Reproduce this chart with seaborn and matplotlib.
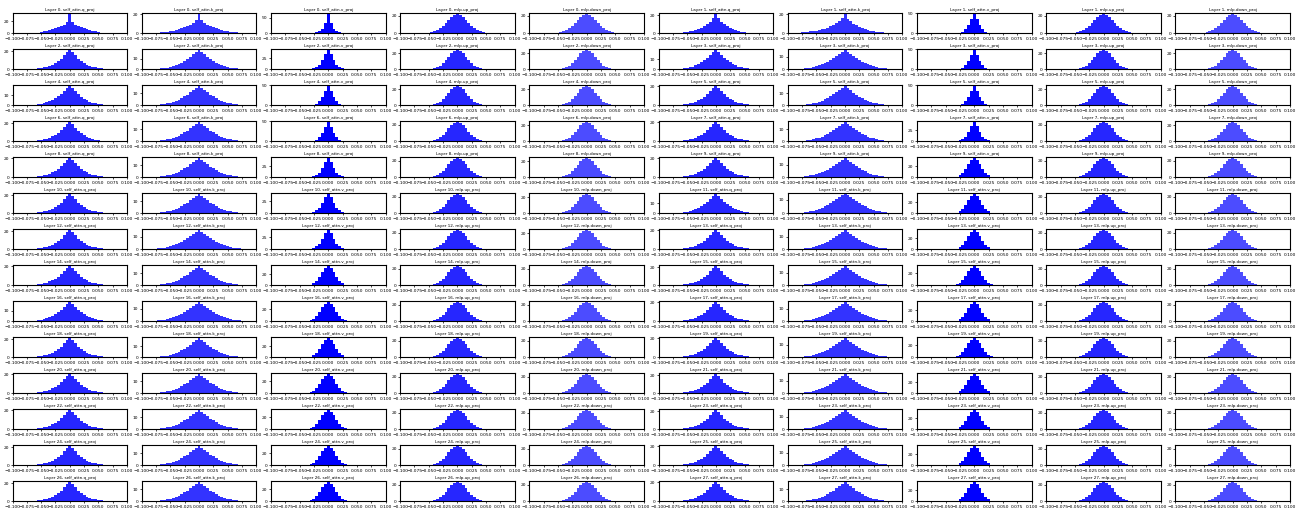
import numpy as np
import pandas as pd
import matplotlib
matplotlib.use("Agg")
import matplotlib.pyplot as plt
import seaborn as sns

# Weight-value histograms per layer and projection (density per 0.005-wide bin,
# each list centred on 0.0 so the middle entry is the bin around zero).
modules = ["self_attn.q_proj", "self_attn.k_proj", "self_attn.v_proj",
           "mlp.up_proj", "mlp.down_proj"]
x_ticks = [-0.1, -0.075, -0.05, -0.025, 0.0, 0.025, 0.05, 0.075, 0.1]
bin_width = 0.005

q_proj = [
    [0.3,0.5,0.8,1.3,2,3,4,5.5,7,9,10.5,12,14,18,31,18,14,12,10.5,9,7,5.5,4,3,2,1.3,0.8,0.5,0.3],
    [0.3,0.45,0.7,1,1.4,2,2.7,3.6,4.8,6.3,8.1,10.3,13,16.8,21,16.5,12.8,10,7.8,6,4.5,3.3,2.4,1.7,1.2,0.8,0.5,0.3,0.15],
    [0.15,0.3,0.55,0.9,1.35,2,2.8,3.9,5.2,7,9.2,11.9,15.3,18.8,21,18.8,15.3,11.9,9.2,7,5.2,3.9,2.8,2,1.35,0.9,0.55,0.3,0.15],
    [0.2,0.35,0.6,0.95,1.4,2,2.8,3.8,5.1,6.8,8.8,11.3,14.3,17.2,19,17.2,14.3,11.3,8.8,6.8,5.1,3.8,2.8,2,1.4,0.95,0.6,0.35,0.2],
    [0.2,0.35,0.6,0.95,1.4,2.1,2.9,3.9,5.2,6.9,8.9,11.4,14.4,17.3,19,17.1,14.2,11.2,8.7,6.7,5,3.7,2.7,1.9,1.3,0.9,0.55,0.3,0.2],
    [0.2,0.35,0.6,0.95,1.4,2,2.8,3.9,5.2,6.9,9,11.6,14.8,18,20,18,14.8,11.6,9,6.9,5.2,3.9,2.8,2,1.4,0.95,0.6,0.35,0.2],
    [0.15,0.3,0.55,0.9,1.4,2,2.8,3.9,5.3,7.1,9.3,12,15.4,18.9,21,18.7,15.2,11.8,9.1,6.9,5.1,3.8,2.7,1.9,1.3,0.85,0.5,0.3,0.15],
    [0.2,0.35,0.6,0.95,1.4,2,2.8,3.9,5.2,6.9,9,11.6,14.8,18,20,18,14.8,11.6,9,6.9,5.2,3.9,2.8,2,1.4,0.95,0.6,0.35,0.2],
    [0.2,0.3,0.55,0.9,1.35,2,2.8,3.9,5.3,7,9.1,11.7,14.9,18.1,20,17.9,14.7,11.5,8.9,6.8,5.1,3.8,2.7,1.9,1.35,0.9,0.55,0.35,0.2],
    [0.2,0.35,0.6,0.95,1.4,2,2.8,3.9,5.2,6.9,9,11.6,14.8,18,20,18,14.8,11.6,9,6.9,5.2,3.9,2.8,2,1.4,0.95,0.6,0.35,0.2],
    [0.15,0.3,0.55,0.9,1.35,2,2.8,3.9,5.2,7,9.2,11.9,15.3,18.8,21,18.8,15.3,11.9,9.2,7,5.2,3.9,2.8,2,1.35,0.9,0.55,0.3,0.15],
    [0.2,0.35,0.6,0.95,1.4,2,2.8,3.8,5.1,6.8,8.8,11.3,14.3,17.2,19,17.2,14.3,11.3,8.8,6.8,5.1,3.8,2.8,2,1.4,0.95,0.6,0.35,0.2],
    [0.15,0.3,0.55,0.9,1.35,2,2.8,3.9,5.2,7,9.2,11.9,15.3,18.8,21,18.8,15.3,11.9,9.2,7,5.2,3.9,2.8,2,1.35,0.9,0.55,0.3,0.15],
    [0.2,0.35,0.6,0.95,1.4,2,2.8,3.9,5.2,6.9,9,11.6,14.8,18,20,18,14.8,11.6,9,6.9,5.2,3.9,2.8,2,1.4,0.95,0.6,0.35,0.2],
    [0.2,0.35,0.6,0.95,1.4,2,2.9,4,5.3,7,9.1,11.7,14.9,18,20,17.9,14.7,11.5,8.9,6.8,5.1,3.8,2.7,1.9,1.3,0.9,0.55,0.35,0.2],
    [0.15,0.3,0.55,0.9,1.35,2,2.8,3.9,5.2,7,9.2,11.9,15.3,18.8,21,18.8,15.3,11.9,9.2,7,5.2,3.9,2.8,2,1.35,0.9,0.55,0.3,0.15],
    [0.2,0.35,0.6,0.95,1.4,2,2.8,3.8,5,6.6,8.5,10.9,13.7,16.4,18,16.4,13.7,10.9,8.5,6.6,5,3.8,2.8,2,1.4,0.95,0.6,0.35,0.2],
    [0.2,0.35,0.6,0.95,1.4,2,2.8,3.9,5.2,6.9,9,11.6,14.8,18,20,18,14.8,11.6,9,6.9,5.2,3.9,2.8,2,1.4,0.95,0.6,0.35,0.2],
    [0.15,0.3,0.55,0.9,1.35,2,2.8,3.9,5.2,7,9.2,11.9,15.3,18.8,21,18.8,15.3,11.9,9.2,7,5.2,3.9,2.8,2,1.35,0.9,0.55,0.3,0.15],
    [0.2,0.35,0.6,0.95,1.4,2,2.8,3.9,5.2,6.9,9,11.6,14.8,18,20,18,14.8,11.6,9,6.9,5.2,3.9,2.8,2,1.4,0.95,0.6,0.35,0.2],
    [0.2,0.35,0.6,0.95,1.4,2,2.8,3.9,5.2,6.9,9,11.6,14.8,18,20,18,14.8,11.6,9,6.9,5.2,3.9,2.8,2,1.4,0.95,0.6,0.35,0.2],
    [0.15,0.3,0.55,0.9,1.35,2,2.8,3.9,5.2,7,9.2,11.9,15.3,18.8,21,18.8,15.3,11.9,9.2,7,5.2,3.9,2.8,2,1.35,0.9,0.55,0.3,0.15],
    [0.2,0.35,0.6,0.95,1.4,2,2.8,3.9,5.2,6.9,9,11.6,14.8,18,20,18,14.8,11.6,9,6.9,5.2,3.9,2.8,2,1.4,0.95,0.6,0.35,0.2],
    [0.15,0.3,0.55,0.9,1.35,2,2.8,3.9,5.2,7,9.2,11.9,15.3,18.8,21,18.8,15.3,11.9,9.2,7,5.2,3.9,2.8,2,1.35,0.9,0.55,0.3,0.15],
    [0.15,0.3,0.55,0.9,1.35,2,2.8,3.9,5.2,7,9.2,11.9,15.3,18.8,21,18.8,15.3,11.9,9.2,7,5.2,3.9,2.8,2,1.35,0.9,0.55,0.3,0.15],
    [0.2,0.35,0.6,0.95,1.4,2,2.8,3.9,5.2,6.9,9,11.6,14.8,18,20,18,14.8,11.6,9,6.9,5.2,3.9,2.8,2,1.4,0.95,0.6,0.35,0.2],
    [0.15,0.3,0.55,0.9,1.35,2,2.8,3.9,5.2,7,9.2,11.9,15.3,18.8,21,18.8,15.3,11.9,9.2,7,5.2,3.9,2.8,2,1.35,0.9,0.55,0.3,0.15],
    [0.2,0.35,0.6,0.95,1.4,2,2.8,3.9,5.2,6.9,9,11.6,14.8,18,20,18,14.8,11.6,9,6.9,5.2,3.9,2.8,2,1.4,0.95,0.6,0.35,0.2],
]

k_proj = [
    [0.3,0.5,0.75,1.05,1.4,1.8,2.3,2.9,3.6,4.4,5.3,6.4,7.6,9,10.8,13.5,20,13.5,10.8,9,7.6,6.4,5.3,4.4,3.6,2.9,2.3,1.8,1.4,1.05,0.75,0.5,0.3],
    [0.6,0.9,1.2,1.5,1.9,2.3,2.8,3.4,4.1,5,6,7.2,8.7,10.5,12.8,15.8,20,15.5,12.5,10.2,8.3,6.8,5.5,4.4,3.5,2.8,2.2,1.7,1.3,0.95,0.65,0.4,0.25],
    [0.2,0.35,0.55,0.8,1.15,1.6,2.2,2.9,3.7,4.8,6.1,7.7,9.5,11.6,14,16.5,18,16.5,14,11.6,9.5,7.7,6.1,4.8,3.7,2.9,2.2,1.6,1.15,0.8,0.55,0.35,0.2],
    [0.25,0.42,0.65,0.95,1.3,1.75,2.3,3,3.8,4.8,6,7.3,8.8,10.5,12.3,14,15,14,12.3,10.5,8.8,7.3,6,4.8,3.8,3,2.3,1.75,1.3,0.95,0.65,0.42,0.25],
    [0.25,0.4,0.6,0.9,1.25,1.7,2.3,3,3.8,4.8,6,7.4,9,10.8,12.8,14.8,16,14.8,12.8,10.8,9,7.4,6,4.8,3.8,3,2.3,1.7,1.25,0.9,0.6,0.4,0.25],
    [0.3,0.45,0.65,0.95,1.3,1.75,2.35,3.1,3.9,4.9,6.1,7.5,9.1,10.9,12.9,14.8,16,14.7,12.7,10.7,8.9,7.3,5.9,4.7,3.7,2.9,2.2,1.6,1.2,0.85,0.55,0.35,0.2],
    [0.25,0.4,0.6,0.9,1.25,1.7,2.3,3,3.8,4.8,6,7.4,9,10.8,12.8,14.8,16,14.8,12.8,10.8,9,7.4,6,4.8,3.8,3,2.3,1.7,1.25,0.9,0.6,0.4,0.25],
    [0.25,0.42,0.65,0.95,1.3,1.75,2.3,3,3.8,4.8,6,7.3,8.8,10.5,12.3,14,15.5,14,12.3,10.5,8.8,7.3,6,4.8,3.8,3,2.3,1.75,1.3,0.95,0.65,0.42,0.25],
    [0.25,0.4,0.6,0.9,1.25,1.7,2.3,3,3.8,4.8,6,7.4,9,10.8,12.8,14.8,16,14.8,12.8,10.8,9,7.4,6,4.8,3.8,3,2.3,1.7,1.25,0.9,0.6,0.4,0.25],
    [0.3,0.5,0.75,1.05,1.45,1.9,2.5,3.2,4,4.9,6.1,7.4,8.9,10.6,12.4,14,15,14,12.2,10.4,8.7,7.2,5.9,4.7,3.7,2.9,2.2,1.65,1.2,0.85,0.6,0.4,0.25],
    [0.25,0.4,0.6,0.9,1.25,1.7,2.3,3,3.8,4.8,6,7.4,9,10.8,12.8,14.8,16,14.8,12.8,10.8,9,7.4,6,4.8,3.8,3,2.3,1.7,1.25,0.9,0.6,0.4,0.25],
    [0.25,0.45,0.7,1,1.4,1.9,2.5,3.2,4.1,5.1,6.3,7.6,9,10.5,12,13.3,14,13.3,12,10.5,9,7.6,6.3,5.1,4.1,3.2,2.5,1.9,1.4,1,0.7,0.45,0.25],
    [0.25,0.42,0.65,0.95,1.3,1.75,2.3,3,3.8,4.8,6,7.3,8.8,10.5,12.3,14,15,14,12.3,10.5,8.8,7.3,6,4.8,3.8,3,2.3,1.75,1.3,0.95,0.65,0.42,0.25],
    [0.25,0.42,0.65,0.95,1.3,1.75,2.3,3,3.8,4.8,6,7.3,8.8,10.5,12.3,14,15,14,12.3,10.5,8.8,7.3,6,4.8,3.8,3,2.3,1.75,1.3,0.95,0.65,0.42,0.25],
    [0.25,0.4,0.6,0.9,1.25,1.7,2.3,3,3.8,4.8,6,7.4,9,10.8,12.8,14.8,16,14.8,12.8,10.8,9,7.4,6,4.8,3.8,3,2.3,1.7,1.25,0.9,0.6,0.4,0.25],
    [0.25,0.42,0.65,0.95,1.3,1.75,2.3,3,3.8,4.8,6,7.3,8.8,10.5,12.3,14,15,14,12.3,10.5,8.8,7.3,6,4.8,3.8,3,2.3,1.75,1.3,0.95,0.65,0.42,0.25],
    [0.25,0.42,0.65,0.95,1.3,1.75,2.3,3,3.8,4.8,6,7.3,8.8,10.5,12.3,14,15,14,12.3,10.5,8.8,7.3,6,4.8,3.8,3,2.3,1.75,1.3,0.95,0.65,0.42,0.25],
    [0.25,0.42,0.65,0.95,1.3,1.75,2.3,3,3.8,4.8,6,7.3,8.8,10.5,12.3,14,15,14,12.3,10.5,8.8,7.3,6,4.8,3.8,3,2.3,1.75,1.3,0.95,0.65,0.42,0.25],
    [0.2,0.35,0.55,0.8,1.15,1.6,2.2,2.9,3.7,4.8,6.1,7.6,9.3,11.3,13.5,15.7,17,15.7,13.5,11.3,9.3,7.6,6.1,4.8,3.7,2.9,2.2,1.6,1.15,0.8,0.55,0.35,0.2],
    [0.25,0.42,0.65,0.95,1.3,1.75,2.3,3,3.8,4.8,6,7.3,8.8,10.5,12.3,14,15,14,12.3,10.5,8.8,7.3,6,4.8,3.8,3,2.3,1.75,1.3,0.95,0.65,0.42,0.25],
    [0.25,0.4,0.6,0.9,1.25,1.7,2.3,3,3.8,4.8,6,7.4,9,10.8,12.8,14.8,16,14.8,12.8,10.8,9,7.4,6,4.8,3.8,3,2.3,1.7,1.25,0.9,0.6,0.4,0.25],
    [0.25,0.42,0.65,0.95,1.3,1.75,2.3,3,3.8,4.8,6,7.3,8.8,10.5,12.3,14,15,14,12.3,10.5,8.8,7.3,6,4.8,3.8,3,2.3,1.75,1.3,0.95,0.65,0.42,0.25],
    [0.25,0.4,0.6,0.9,1.25,1.7,2.3,3,3.8,4.8,6,7.4,9,10.8,12.8,14.8,16,14.8,12.8,10.8,9,7.4,6,4.8,3.8,3,2.3,1.7,1.25,0.9,0.6,0.4,0.25],
    [0.25,0.42,0.65,0.95,1.3,1.75,2.3,3,3.8,4.8,6,7.3,8.8,10.5,12.3,14,15,14,12.3,10.5,8.8,7.3,6,4.8,3.8,3,2.3,1.75,1.3,0.95,0.65,0.42,0.25],
    [0.25,0.4,0.6,0.9,1.25,1.7,2.3,3,3.8,4.8,6,7.4,9,10.8,12.8,14.8,16,14.8,12.8,10.8,9,7.4,6,4.8,3.8,3,2.3,1.7,1.25,0.9,0.6,0.4,0.25],
    [0.25,0.42,0.65,0.95,1.3,1.75,2.3,3,3.8,4.8,6,7.3,8.8,10.5,12.3,14,15,14,12.3,10.5,8.8,7.3,6,4.8,3.8,3,2.3,1.75,1.3,0.95,0.65,0.42,0.25],
    [0.25,0.4,0.6,0.9,1.25,1.7,2.3,3,3.8,4.8,6,7.4,9,10.8,12.8,14.8,16,14.8,12.8,10.8,9,7.4,6,4.8,3.8,3,2.3,1.7,1.25,0.9,0.6,0.4,0.25],
    [0.25,0.4,0.6,0.9,1.25,1.7,2.3,3,3.8,4.8,6,7.4,9,10.8,12.8,14.8,16,14.8,12.8,10.8,9,7.4,6,4.8,3.8,3,2.3,1.7,1.25,0.9,0.6,0.4,0.25],
]

v_proj = [
    [0.2,0.6,1.6,3.5,7.5,15,33,62,33,15,7.5,3.5,1.6,0.6,0.2],
    [0.3,0.8,2,4.5,10,21,37,48,37,21,10,4.5,2,0.8,0.3],
    [0.3,0.9,2.2,5,10.5,21,35,44,35,21,10.5,5,2.2,0.9,0.3],
    [0.3,0.8,2,4.5,10,21,37,48,37,21,10,4.5,2,0.8,0.3],
    [0.3,0.8,2,4.5,10,21,37,48,37,21,10,4.5,2,0.8,0.3],
    [0.3,0.8,2,4.5,10,21,37,48,37,21,10,4.5,2,0.8,0.3],
    [0.3,0.8,2,4.5,10,21,37,48,37,21,10,4.5,2,0.8,0.3],
    [0.3,0.9,2.2,5,10.5,21,35,44,35,21,10.5,5,2.2,0.9,0.3],
    [0.3,0.9,2.2,5,10.5,21,35,44,35,21,10.5,5,2.2,0.9,0.3],
    [0.4,1.3,3.5,7.9,15,23.6,31,34,31,23.6,15,7.9,3.5,1.3,0.4],
    [0.4,1.1,2.8,6,12,22.5,33.5,40,33.5,22.5,12,6,2.8,1.1,0.4],
    [0.4,1.3,3.5,7.9,15,23.6,31,34,31,23.6,15,7.9,3.5,1.3,0.4],
    [0.4,1.1,2.8,6,12,22.5,33.5,40,33.5,22.5,12,6,2.8,1.1,0.4],
    [0.4,1.3,3.5,7.9,15,23.6,31,34,31,23.6,15,7.9,3.5,1.3,0.4],
    [0.4,1.3,3.5,7.9,15,23.6,31,34,31,23.6,15,7.9,3.5,1.3,0.4],
    [0.6,1.8,4.3,8.9,15.6,23.2,29.5,32,29.5,23.2,15.6,8.9,4.3,1.8,0.6],
    [0.6,1.8,4.3,8.9,15.6,23.2,29.5,32,29.5,23.2,15.6,8.9,4.3,1.8,0.6],
    [0.4,1.3,3.5,7.9,15,23.6,31,34,31,23.6,15,7.9,3.5,1.3,0.4],
    [0.4,1.3,3.5,7.9,15,23.6,31,34,31,23.6,15,7.9,3.5,1.3,0.4],
    [0.6,1.8,4.3,8.9,15.6,23.2,29.5,32,29.5,23.2,15.6,8.9,4.3,1.8,0.6],
    [0.6,1.8,4.3,8.9,15.6,23.2,29.5,32,29.5,23.2,15.6,8.9,4.3,1.8,0.6],
    [0.4,1.3,3.5,7.9,15,23.6,31,34,31,23.6,15,7.9,3.5,1.3,0.4],
    [0.6,1.8,4.3,8.9,15.6,23.2,29.5,32,29.5,23.2,15.6,8.9,4.3,1.8,0.6],
    [0.4,1.3,3.5,7.9,15,23.6,31,34,31,23.6,15,7.9,3.5,1.3,0.4],
    [0.6,1.8,4.3,8.9,15.6,23.2,29.5,32,29.5,23.2,15.6,8.9,4.3,1.8,0.6],
    [0.4,1.3,3.5,7.9,15,23.6,31,34,31,23.6,15,7.9,3.5,1.3,0.4],
    [0.6,1.8,4.3,8.9,15.6,23.2,29.5,32,29.5,23.2,15.6,8.9,4.3,1.8,0.6],
    [0.4,1.3,3.5,7.9,15,23.6,31,34,31,23.6,15,7.9,3.5,1.3,0.4],
]

up_proj = [
    [0.26,0.56,1.1,2.1,3.6,5.8,8.6,12,15.5,18.6,20.7,21.5,20.7,18.6,15.5,12,8.6,5.8,3.6,2.1,1.1,0.56,0.26],
    [0.26,0.56,1.1,2.1,3.6,5.8,8.6,12,15.5,18.6,20.7,21.5,20.7,18.6,15.5,12,8.6,5.8,3.6,2.1,1.1,0.56,0.26],
    [0.1,0.25,0.6,1.3,2.6,4.7,7.7,11.6,15.9,20,22.9,24,22.9,20,15.9,11.6,7.7,4.7,2.6,1.3,0.6,0.25,0.1],
    [0.1,0.25,0.6,1.3,2.6,4.7,7.7,11.6,15.9,20,22.9,24,22.9,20,15.9,11.6,7.7,4.7,2.6,1.3,0.6,0.25,0.1],
    [0.1,0.25,0.6,1.3,2.6,4.7,7.7,11.6,15.9,20,22.9,24,22.9,20,15.9,11.6,7.7,4.7,2.6,1.3,0.6,0.25,0.1],
    [0.1,0.25,0.6,1.3,2.6,4.7,7.7,11.6,15.9,20,22.9,24,22.9,20,15.9,11.6,7.7,4.7,2.6,1.3,0.6,0.25,0.1],
    [0.18,0.4,0.85,1.7,3.1,5.2,8.1,11.8,15.7,19.3,21.8,23,21.8,19.3,15.7,11.8,8.1,5.2,3.1,1.7,0.85,0.4,0.18],
    [0.18,0.4,0.85,1.7,3.1,5.2,8.1,11.8,15.7,19.3,21.8,23,21.8,19.3,15.7,11.8,8.1,5.2,3.1,1.7,0.85,0.4,0.18],
    [0.18,0.4,0.85,1.7,3.1,5.2,8.1,11.8,15.7,19.3,21.8,23,21.8,19.3,15.7,11.8,8.1,5.2,3.1,1.7,0.85,0.4,0.18],
    [0.18,0.4,0.85,1.7,3.1,5.2,8.1,11.8,15.7,19.3,21.8,23,21.8,19.3,15.7,11.8,8.1,5.2,3.1,1.7,0.85,0.4,0.18],
    [0.18,0.4,0.85,1.7,3.1,5.2,8.1,11.8,15.7,19.3,21.8,23,21.8,19.3,15.7,11.8,8.1,5.2,3.1,1.7,0.85,0.4,0.18],
    [0.18,0.4,0.85,1.7,3.1,5.2,8.1,11.8,15.7,19.3,21.8,23,21.8,19.3,15.7,11.8,8.1,5.2,3.1,1.7,0.85,0.4,0.18],
    [0.18,0.4,0.85,1.7,3.1,5.2,8.1,11.8,15.7,19.3,21.8,23,21.8,19.3,15.7,11.8,8.1,5.2,3.1,1.7,0.85,0.4,0.18],
    [0.18,0.4,0.85,1.7,3.1,5.2,8.1,11.8,15.7,19.3,21.8,23,21.8,19.3,15.7,11.8,8.1,5.2,3.1,1.7,0.85,0.4,0.18],
    [0.18,0.4,0.85,1.7,3.1,5.2,8.1,11.8,15.7,19.3,21.8,23,21.8,19.3,15.7,11.8,8.1,5.2,3.1,1.7,0.85,0.4,0.18],
    [0.18,0.4,0.85,1.7,3.1,5.2,8.1,11.8,15.7,19.3,21.8,23,21.8,19.3,15.7,11.8,8.1,5.2,3.1,1.7,0.85,0.4,0.18],
    [0.18,0.4,0.85,1.7,3.1,5.2,8.1,11.8,15.7,19.3,21.8,23,21.8,19.3,15.7,11.8,8.1,5.2,3.1,1.7,0.85,0.4,0.18],
    [0.18,0.4,0.85,1.7,3.1,5.2,8.1,11.8,15.7,19.3,21.8,23,21.8,19.3,15.7,11.8,8.1,5.2,3.1,1.7,0.85,0.4,0.18],
    [0.18,0.4,0.85,1.7,3.1,5.2,8.1,11.8,15.7,19.3,21.8,23,21.8,19.3,15.7,11.8,8.1,5.2,3.1,1.7,0.85,0.4,0.18],
    [0.18,0.4,0.85,1.7,3.1,5.2,8.1,11.8,15.7,19.3,21.8,23,21.8,19.3,15.7,11.8,8.1,5.2,3.1,1.7,0.85,0.4,0.18],
    [0.18,0.4,0.85,1.7,3.1,5.2,8.1,11.8,15.7,19.3,21.8,23,21.8,19.3,15.7,11.8,8.1,5.2,3.1,1.7,0.85,0.4,0.18],
    [0.18,0.4,0.85,1.7,3.1,5.2,8.1,11.8,15.7,19.3,21.8,23,21.8,19.3,15.7,11.8,8.1,5.2,3.1,1.7,0.85,0.4,0.18],
    [0.18,0.4,0.85,1.7,3.1,5.2,8.1,11.8,15.7,19.3,21.8,23,21.8,19.3,15.7,11.8,8.1,5.2,3.1,1.7,0.85,0.4,0.18],
    [0.18,0.4,0.85,1.7,3.1,5.2,8.1,11.8,15.7,19.3,21.8,23,21.8,19.3,15.7,11.8,8.1,5.2,3.1,1.7,0.85,0.4,0.18],
    [0.18,0.4,0.85,1.7,3.1,5.2,8.1,11.8,15.7,19.3,21.8,23,21.8,19.3,15.7,11.8,8.1,5.2,3.1,1.7,0.85,0.4,0.18],
    [0.18,0.4,0.85,1.7,3.1,5.2,8.1,11.8,15.7,19.3,21.8,23,21.8,19.3,15.7,11.8,8.1,5.2,3.1,1.7,0.85,0.4,0.18],
    [0.18,0.4,0.85,1.7,3.1,5.2,8.1,11.8,15.7,19.3,21.8,23,21.8,19.3,15.7,11.8,8.1,5.2,3.1,1.7,0.85,0.4,0.18],
    [0.18,0.4,0.85,1.7,3.1,5.2,8.1,11.8,15.7,19.3,21.8,23,21.8,19.3,15.7,11.8,8.1,5.2,3.1,1.7,0.85,0.4,0.18],
]

down_proj = [
    [0.26,0.56,1.1,2.1,3.6,5.8,8.6,12,15.5,18.6,20.7,21.5,20.7,18.6,15.5,12,8.6,5.8,3.6,2.1,1.1,0.56,0.26],
    [0.26,0.56,1.1,2.1,3.6,5.8,8.6,12,15.5,18.6,20.7,21.5,20.7,18.6,15.5,12,8.6,5.8,3.6,2.1,1.1,0.56,0.26],
    [0.1,0.25,0.6,1.3,2.6,4.7,7.7,11.6,15.9,20,22.9,24,22.9,20,15.9,11.6,7.7,4.7,2.6,1.3,0.6,0.25,0.1],
    [0.1,0.25,0.6,1.3,2.6,4.7,7.7,11.6,15.9,20,22.9,24,22.9,20,15.9,11.6,7.7,4.7,2.6,1.3,0.6,0.25,0.1],
    [0.1,0.25,0.6,1.3,2.6,4.7,7.7,11.6,15.9,20,22.9,24,22.9,20,15.9,11.6,7.7,4.7,2.6,1.3,0.6,0.25,0.1],
    [0.1,0.25,0.6,1.3,2.6,4.7,7.7,11.6,15.9,20,22.9,24,22.9,20,15.9,11.6,7.7,4.7,2.6,1.3,0.6,0.25,0.1],
    [0.1,0.25,0.6,1.3,2.6,4.7,7.7,11.6,15.9,20,22.9,24,22.9,20,15.9,11.6,7.7,4.7,2.6,1.3,0.6,0.25,0.1],
    [0.1,0.25,0.6,1.3,2.6,4.7,7.7,11.6,15.9,20,22.9,24,22.9,20,15.9,11.6,7.7,4.7,2.6,1.3,0.6,0.25,0.1],
    [0.1,0.25,0.6,1.3,2.6,4.7,7.7,11.6,15.9,20,22.9,24,22.9,20,15.9,11.6,7.7,4.7,2.6,1.3,0.6,0.25,0.1],
    [0.18,0.4,0.85,1.7,3.1,5.2,8.1,11.8,15.7,19.3,21.8,23,21.8,19.3,15.7,11.8,8.1,5.2,3.1,1.7,0.85,0.4,0.18],
    [0.1,0.25,0.6,1.3,2.6,4.7,7.7,11.6,15.9,20,22.9,24,22.9,20,15.9,11.6,7.7,4.7,2.6,1.3,0.6,0.25,0.1],
    [0.18,0.4,0.85,1.7,3.1,5.2,8.1,11.8,15.7,19.3,21.8,23,21.8,19.3,15.7,11.8,8.1,5.2,3.1,1.7,0.85,0.4,0.18],
    [0.1,0.25,0.6,1.3,2.6,4.7,7.7,11.6,15.9,20,22.9,24,22.9,20,15.9,11.6,7.7,4.7,2.6,1.3,0.6,0.25,0.1],
    [0.18,0.4,0.85,1.7,3.1,5.2,8.1,11.8,15.7,19.3,21.8,23,21.8,19.3,15.7,11.8,8.1,5.2,3.1,1.7,0.85,0.4,0.18],
    [0.18,0.4,0.85,1.7,3.1,5.2,8.1,11.8,15.7,19.3,21.8,23,21.8,19.3,15.7,11.8,8.1,5.2,3.1,1.7,0.85,0.4,0.18],
    [0.18,0.4,0.85,1.7,3.1,5.2,8.1,11.8,15.7,19.3,21.8,23,21.8,19.3,15.7,11.8,8.1,5.2,3.1,1.7,0.85,0.4,0.18],
    [0.18,0.4,0.85,1.7,3.1,5.2,8.1,11.8,15.7,19.3,21.8,23,21.8,19.3,15.7,11.8,8.1,5.2,3.1,1.7,0.85,0.4,0.18],
    [0.18,0.4,0.85,1.7,3.1,5.2,8.1,11.8,15.7,19.3,21.8,23,21.8,19.3,15.7,11.8,8.1,5.2,3.1,1.7,0.85,0.4,0.18],
    [0.18,0.4,0.85,1.7,3.1,5.2,8.1,11.8,15.7,19.3,21.8,23,21.8,19.3,15.7,11.8,8.1,5.2,3.1,1.7,0.85,0.4,0.18],
    [0.18,0.4,0.85,1.7,3.1,5.2,8.1,11.8,15.7,19.3,21.8,23,21.8,19.3,15.7,11.8,8.1,5.2,3.1,1.7,0.85,0.4,0.18],
    [0.18,0.4,0.85,1.7,3.1,5.2,8.1,11.8,15.7,19.3,21.8,23,21.8,19.3,15.7,11.8,8.1,5.2,3.1,1.7,0.85,0.4,0.18],
    [0.18,0.4,0.85,1.7,3.1,5.2,8.1,11.8,15.7,19.3,21.8,23,21.8,19.3,15.7,11.8,8.1,5.2,3.1,1.7,0.85,0.4,0.18],
    [0.18,0.4,0.85,1.7,3.1,5.2,8.1,11.8,15.7,19.3,21.8,23,21.8,19.3,15.7,11.8,8.1,5.2,3.1,1.7,0.85,0.4,0.18],
    [0.18,0.4,0.85,1.7,3.1,5.2,8.1,11.8,15.7,19.3,21.8,23,21.8,19.3,15.7,11.8,8.1,5.2,3.1,1.7,0.85,0.4,0.18],
    [0.18,0.4,0.85,1.7,3.1,5.2,8.1,11.8,15.7,19.3,21.8,23,21.8,19.3,15.7,11.8,8.1,5.2,3.1,1.7,0.85,0.4,0.18],
    [0.18,0.4,0.85,1.7,3.1,5.2,8.1,11.8,15.7,19.3,21.8,23,21.8,19.3,15.7,11.8,8.1,5.2,3.1,1.7,0.85,0.4,0.18],
    [0.18,0.4,0.85,1.7,3.1,5.2,8.1,11.8,15.7,19.3,21.8,23,21.8,19.3,15.7,11.8,8.1,5.2,3.1,1.7,0.85,0.4,0.18],
    [0.18,0.4,0.85,1.7,3.1,5.2,8.1,11.8,15.7,19.3,21.8,23,21.8,19.3,15.7,11.8,8.1,5.2,3.1,1.7,0.85,0.4,0.18],
]

series = [q_proj, k_proj, v_proj, up_proj, down_proj]
fill_alpha = [0.85, 0.8, 1.0, 0.85, 0.7]

fig, axes = plt.subplots(14, 10, figsize=(13.05, 5.08), dpi=100)
fig.subplots_adjust(left=0.0096, right=0.9885, top=0.9738, bottom=0.0132,
                    wspace=0.128, hspace=0.8)

for layer in range(len(q_proj)):
    for m, name in enumerate(modules):
        ax = axes.flat[layer * len(modules) + m]
        dens = np.asarray(series[m][layer], dtype=float)
        n = len(dens)
        centers = (np.arange(n) - n // 2) * bin_width
        edges = list(np.append(centers - bin_width / 2, centers[-1] + bin_width / 2))
        frame = pd.DataFrame({"value": centers, "density": dens})
        sns.histplot(data=frame, x="value", weights="density", bins=edges,
                     stat="count", color="blue", alpha=fill_alpha[m],
                     linewidth=0, ax=ax)
        ax.set_xlim(-0.1, 0.1)
        ax.set_xticks(x_ticks)
        ax.set_ylabel("")
        ax.set_xlabel("")
        ax.set_title(f"Layer {layer}, {name}", fontsize=3, pad=1.5)
        ax.tick_params(labelsize=3.2, length=1.5, width=0.5, pad=1)
        for spine in ax.spines.values():
            spine.set_linewidth(0.8)

fig.savefig("out.png", dpi=100)
